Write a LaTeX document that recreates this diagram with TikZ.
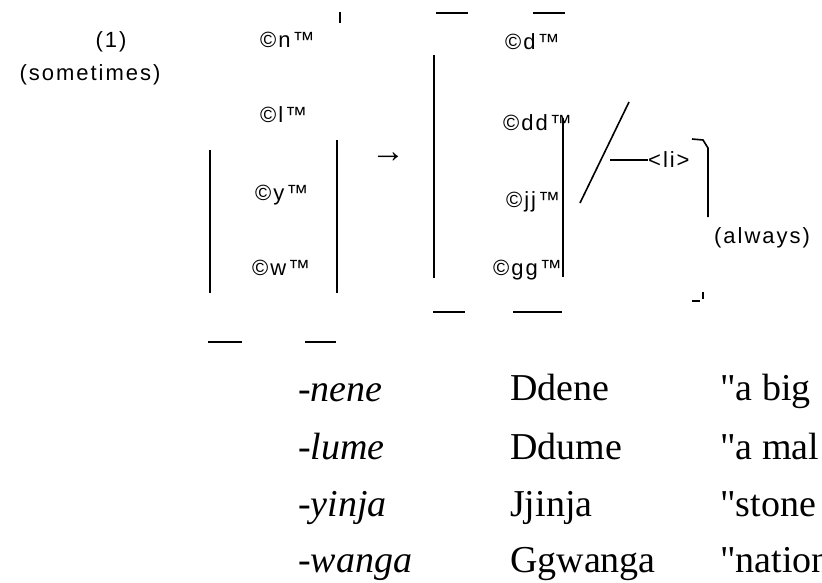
\documentclass[tikz,border=0pt]{standalone}
\usepackage{fontspec}
\setmainfont{Liberation Serif}
\newfontfamily\garb[LetterSpace=9]{Liberation Sans}
\newcommand\sq{\XeTeXglyph\XeTeXcharglyph"22\relax}
\tikzset{
  ln/.style={line width=1.6pt, line cap=butt},
  big/.style={inner sep=0pt, anchor=base west, font=\fontsize{38}{40}\selectfont},
  sm/.style={inner sep=0pt, font=\garb\fontsize{22}{24}\selectfont},
}
\begin{document}
\begin{tikzpicture}[x=1pt,y=-1pt]
\useasboundingbox (0,0) rectangle (822,582);
\clip (0,0) rectangle (822,582);
% upper labels
\node[sm] (one) at (111,42) {(1)};
\node[sm] (some) at (90,75) {(sometimes)};
\node[sm, anchor=west] (ln1) at (260,40) {©n™};
\node[sm, anchor=west] (ll1) at (260,115) {©l™};
\node[sm, anchor=west] (ly1) at (255,195) {©y™};
\node[sm, anchor=west] (lw1) at (252,268) {©w™};
\node[sm, anchor=west] (rd) at (505,42) {©d™};
\node[sm, anchor=west] (rdd) at (503,123) {©dd™};
\node[sm, anchor=west] (rjj) at (506,202) {©jj™};
\node[sm, anchor=west] (rgg) at (493,270) {©gg™};
\node[sm, anchor=west] (li) at (648,160) {<li>};
\node[sm, anchor=west] (alw) at (714,238) {(always)};
\node[inner sep=0pt, font=\fontsize{34}{36}\selectfont] (arr) at (388,158) {→};
% left bracket
\draw[ln] (210,150) -- (210,293);
\draw[ln] (337,140) -- (337,293);
\draw[ln] (208,342) -- (242,342);
\draw[ln] (305,342) -- (336,342);
\draw[ln] (340,12) -- (340,23);
% right bracket
\draw[ln] (436,13) -- (468,13);
\draw[ln] (533,13) -- (565,13);
\draw[ln] (434,55) -- (434,278);
\draw[ln] (563,118) -- (563,277);
\draw[ln] (433,312) -- (465,312);
\draw[ln] (513,312) -- (562,312);
% slash and connector to <li>
\draw[ln] (629,102) -- (580,203);
\draw[ln] (610,160) -- (li.west);
% brace
\draw[ln] (692,139) -- (703,140) -- (708,148) -- (708,217);
\draw[ln] (692,301) -- (700,301);
\draw[ln] (703,292) -- (703,299);
% table
\node[big] (a1) at (298,401) {-\textit{nene}};
\node[big] (a2) at (298,459) {-\textit{lume}};
\node[big] (a3) at (298,516) {-\textit{yinja}};
\node[big] (a4) at (298,572) {-\textit{wanga}};
\node[big] (b1) at (510,400) {Ddene};
\node[big] (b2) at (510,459) {Ddume};
\node[big] (b3) at (510,516) {Jjinja};
\node[big] (b4) at (510,572) {Ggwanga};
\node[big] (c1) at (720,400) {\sq a big};
\node[big] (c2) at (720,459) {\sq a mal};
\node[big] (c3) at (720,516) {\sq stone};
\node[big] (c4) at (720,572) {\sq nation};
\end{tikzpicture}
\end{document}
